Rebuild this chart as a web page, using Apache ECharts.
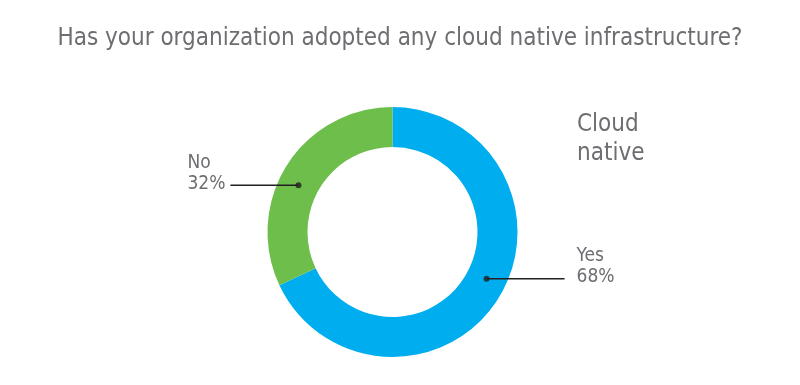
<!DOCTYPE html>
<html><head><meta charset="utf-8">
<script src="https://cdn.jsdelivr.net/npm/echarts@6/dist/echarts.min.js"></script>
<style>html,body{margin:0;padding:0;background:#fff}#c{width:800px;height:385px}</style>
</head><body><div id="c"></div>
<script>
const categories = ['Yes', 'No'];
const values = [68, 32];
const colors = ['#00aeef', '#6dbe4b'];
const titleText = 'Has your organization adopted any cloud native infrastructure?';
const sideLabel = 'Cloud\nnative';

const FONT = "'DejaVu Sans Condensed','Liberation Sans Narrow',sans-serif";
const TEXT = '#6d6e71';
const LINE = '#231f20';
const center = [392.5, 232];
const labelRadius = 105;
const labelStart = 96;
const lineLen = [78, 68];
const textGap = [12, 8];

const total = values.reduce((a, b) => a + b, 0);
let acc = 0;
const dotData = values.map(v => { const mid = acc + v / 2; acc += v; return [labelRadius, mid]; });

const ringData = categories.map((n, i) => ({ name: n, value: values[i], itemStyle: { color: colors[i] } }));
const labelData = categories.map((n, i) => ({
  name: n, value: values[i],
  itemStyle: { color: 'rgba(0,0,0,0)' },
  label: { distanceToLabelLine: textGap[i] },
  labelLine: { length2: lineLen[i] }
}));

const chart = echarts.init(document.getElementById('c'));
chart.setOption({
  animation: false,
  title: [
    { text: titleText, left: 'center', top: 22,
      textStyle: { fontFamily: FONT, fontSize: 24, fontWeight: 'normal', color: TEXT } },
    { text: sideLabel, left: 572, top: 105,
      textStyle: { fontFamily: FONT, fontSize: 24, lineHeight: 29, fontWeight: 'normal', color: TEXT } }
  ],
  polar: { center: center, radius: 125 },
  angleAxis: { type: 'value', min: 0, max: total, startAngle: labelStart, clockwise: true, show: false },
  radiusAxis: { type: 'value', min: 0, max: 125, show: false },
  series: [
    { type: 'pie', center: center, radius: [85, 125], startAngle: 90, clockwise: true,
      data: ringData, label: { show: false }, labelLine: { show: false }, silent: true },
    { type: 'pie', center: center, radius: [0, labelRadius], startAngle: labelStart, clockwise: true,
      avoidLabelOverlap: false, silent: true, z: 3,
      data: labelData,
      label: { show: true, position: 'outside', color: TEXT, fontFamily: FONT, fontSize: 19,
        padding: [0, 0, 24, 0],
        formatter: p => '{a|' + p.name + '}\n{a|' + p.value + '%}',
        rich: { a: { fontFamily: FONT, fontSize: 19, lineHeight: 21, color: TEXT, width: 35, align: 'left' } } },
      labelLine: { show: true, length: 0, smooth: false, lineStyle: { color: LINE, width: 1.5 } } },
    { type: 'scatter', coordinateSystem: 'polar', data: dotData, symbol: 'circle', symbolSize: 6,
      itemStyle: { color: LINE }, silent: true, z: 5 }
  ]
});
</script></body></html>
